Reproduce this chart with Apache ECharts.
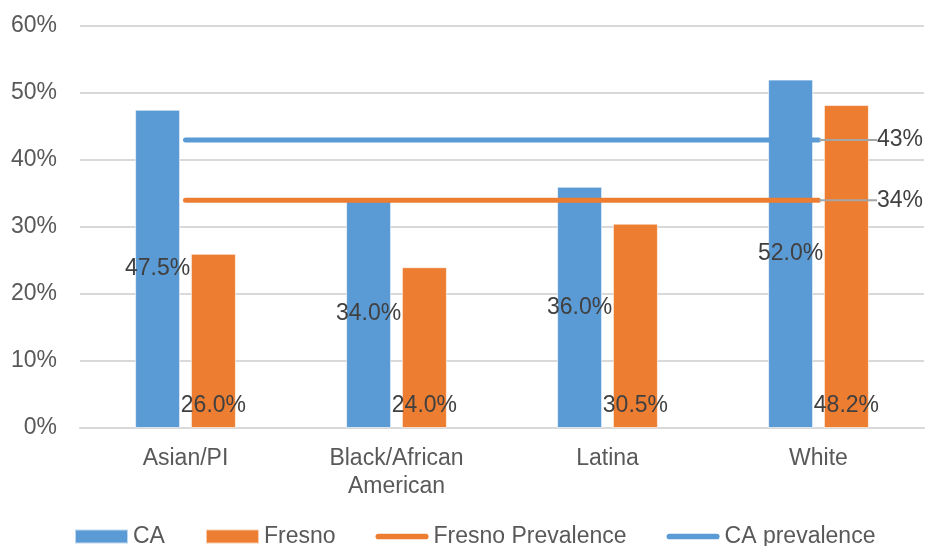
<!DOCTYPE html>
<html>
<head>
<meta charset="utf-8">
<script src="https://cdn.jsdelivr.net/npm/echarts@6/dist/echarts.min.js"></script>
<style>
  html, body { margin: 0; padding: 0; background: #fff; }
  #chart { width: 927px; height: 546px; }
</style>
</head>
<body>
<div id="chart"></div>
<script>
// Groups along the x axis
const categories = ['Asian/PI', 'Black/African\nAmerican', 'Latina', 'White'];
// Bar values (percent)
const caValues = [47.5, 34.0, 36.0, 52.0];
const fresnoValues = [26.0, 24.0, 30.5, 48.2];
// Overall prevalence reference lines (percent)
const fresnoPrevalence = [34, 34, 34, 34];
const caPrevalence = [43, 43, 43, 43];
// Y axis ticks
const yMin = 0, yMax = 60, yStep = 10;

const FONT = "'Liberation Sans', Arial, sans-serif";
const BLUE = '#5B9BD5';
const ORANGE = '#ED7D31';
const AXIS_TEXT = '#595959';
const LABEL_TEXT = '#404040';
// Thick line with rounded ends, used as the legend icon of the prevalence lines
const LINE_ICON = 'path://M3,0 H53 A3,3 0 0 1 53,6 H3 A3,3 0 0 1 3,0 Z';

// Show the value label only on the last point of a prevalence line
function lastPointLabelled(values) {
  return values.map((v, i) => i === values.length - 1
    ? { value: v, label: { show: true } }
    : v);
}

function prevalenceLine(name, values, color) {
  return {
    name: name,
    type: 'line',
    data: lastPointLabelled(values),
    symbol: 'circle',
    symbolSize: 1,
    showSymbol: true,
    z: 5,
    lineStyle: { color: color, width: 5, cap: 'round' },
    itemStyle: { color: color },
    label: {
      show: false,
      position: 'right',
      distance: 4,
      formatter: p => Math.round(p.value) + '%',
      color: LABEL_TEXT,
      fontFamily: FONT,
      fontSize: 23
    },
    labelLayout: { dx: 54 },
    labelLine: { show: true, lineStyle: { color: '#A5A5A5', width: 2 } }
  };
}

const chart = echarts.init(document.getElementById('chart'), null, { renderer: 'canvas' });
chart.setOption({
  animation: false,
  backgroundColor: '#ffffff',
  grid: { left: 80, right: 3, top: 26, bottom: 118, containLabel: false },
  legend: {
    top: 520,
    left: 69,
    itemGap: 40,
    itemWidth: 53,
    itemHeight: 14,
    textStyle: { color: AXIS_TEXT, fontFamily: FONT, fontSize: 23 },
    data: [
      { name: 'CA', icon: 'rect' },
      { name: 'Fresno', icon: 'rect' },
      { name: 'Fresno Prevalence', icon: LINE_ICON },
      { name: 'CA prevalence', icon: LINE_ICON }
    ]
  },
  xAxis: {
    type: 'category',
    data: categories,
    boundaryGap: true,
    axisLine: { show: true, lineStyle: { color: '#D9D9D9', width: 2 } },
    axisTick: { show: false },
    axisLabel: {
      color: AXIS_TEXT, fontFamily: FONT, fontSize: 23,
      lineHeight: 28, margin: 17, interval: 0
    }
  },
  yAxis: {
    type: 'value',
    min: yMin, max: yMax, interval: yStep,
    axisLine: { show: false },
    axisTick: { show: false },
    splitLine: { lineStyle: { color: '#D9D9D9', width: 2 } },
    axisLabel: {
      color: AXIS_TEXT, fontFamily: FONT, fontSize: 23, margin: 23,
      formatter: v => v + '%'
    }
  },
  series: [
    {
      name: 'CA', type: 'bar', data: caValues,
      barWidth: 45, barGap: '24%',
      itemStyle: { color: BLUE, borderColor: 'rgba(255,255,255,0.6)', borderWidth: 1 },
      label: {
        show: true, position: 'inside', color: LABEL_TEXT,
        fontFamily: FONT, fontSize: 23,
        formatter: p => p.value.toFixed(1) + '%'
      }
    },
    {
      name: 'Fresno', type: 'bar', data: fresnoValues,
      barWidth: 45, barGap: '24%',
      itemStyle: { color: ORANGE, borderColor: 'rgba(255,255,255,0.6)', borderWidth: 1 },
      label: {
        show: true, position: 'insideBottom', distance: 11, color: LABEL_TEXT,
        fontFamily: FONT, fontSize: 23,
        formatter: p => p.value.toFixed(1) + '%'
      }
    },
    prevalenceLine('Fresno Prevalence', fresnoPrevalence, ORANGE),
    prevalenceLine('CA prevalence', caPrevalence, BLUE)
  ]
});
</script>
</body>
</html>
